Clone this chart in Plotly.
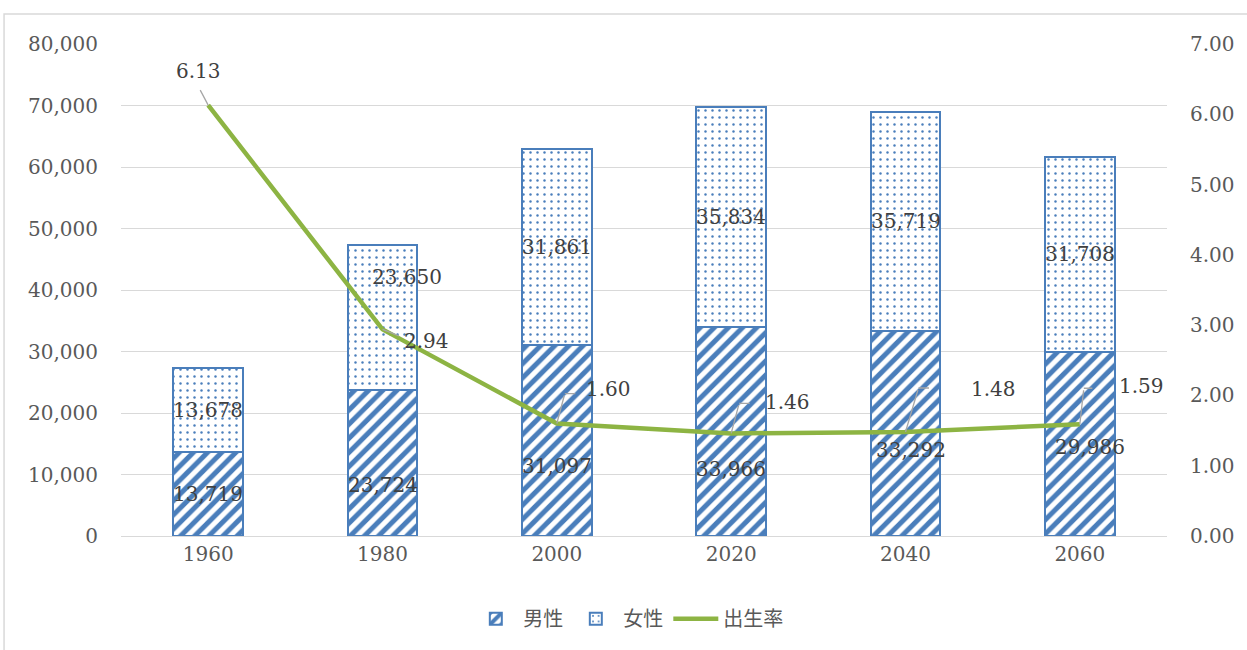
import plotly.graph_objects as go

years = ["1960", "1980", "2000", "2020", "2040", "2060"]
male = [13719, 23724, 31097, 33966, 33292, 29986]
female = [13678, 23650, 31861, 35834, 35719, 31708]
birth_rate = [6.13, 2.94, 1.60, 1.46, 1.48, 1.59]

# label offsets (pixels) - styling only
male_dx = [0, 0, 0, 0, 5, 10]
male_dy = [0, -22, -26, -37, -16, -3]
female_dx = [0, 24, 0, 0, 0, 0]
female_dy = [0, 40, 0, 0, 0, 0]
rate_dx = [-10, 44, 52, 56, 88, 62]
rate_dy = [34, -12, 35, 31, 43, 38]
lead_ax = [-9, 18, 8, 8, 13, 4]
lead_ay = [-17, 7, -30, -30, -44, -36]
lead_h = [0, 0, 12, 12, 12, 10]

BLUE = "#4A7EBB"
GREEN = "#8DB443"
SERIF = "DejaVu Serif"
SANS = "Noto Sans CJK JP"
LBL = dict(family=SERIF, size=20, color="#404040")

fig = go.Figure()
fig.add_trace(go.Bar(
    x=years, y=male, name="男性", width=0.4,
    marker=dict(color="white", line=dict(color=BLUE, width=2),
                pattern=dict(shape="/", fgcolor=BLUE, bgcolor="white", size=10,
                             solidity=0.5, fgopacity=1)),
))
fig.add_trace(go.Bar(
    x=years, y=female, name="女性", width=0.4,
    marker=dict(color="white", line=dict(color=BLUE, width=2),
                pattern=dict(shape=".", fgcolor=BLUE, bgcolor="white", size=7,
                             solidity=0.1, fgopacity=1)),
))
fig.add_trace(go.Scatter(
    x=years, y=birth_rate, name="出生率", yaxis="y2", mode="lines",
    line=dict(color=GREEN, width=4.5),
))

ann = []
for i, y in enumerate(years):
    ann.append(dict(x=i, y=male[i] / 2, xref="x", yref="y", text=f"{male[i]:,}",
                    showarrow=False, xshift=male_dx[i], yshift=male_dy[i], font=LBL))
    ann.append(dict(x=i, y=male[i] + female[i] / 2, xref="x", yref="y", text=f"{female[i]:,}",
                    showarrow=False, xshift=female_dx[i], yshift=female_dy[i], font=LBL))
    ann.append(dict(x=i, y=birth_rate[i], xref="x", yref="y2", text=f"{birth_rate[i]:.2f}",
                    showarrow=False, xshift=rate_dx[i], yshift=rate_dy[i], font=LBL))
    # leader line
    ann.append(dict(x=i, y=birth_rate[i], xref="x", yref="y2", text=" ",
                    showarrow=True, arrowhead=0, arrowwidth=1.3, arrowcolor="#A6A6A6",
                    ax=lead_ax[i], ay=lead_ay[i], standoff=0, font=dict(size=1)))
    if lead_h[i]:
        ann.append(dict(x=i, y=birth_rate[i], xref="x", yref="y2", text=" ",
                        xshift=lead_ax[i], yshift=-lead_ay[i],
                        showarrow=True, arrowhead=0, arrowwidth=1.3, arrowcolor="#A6A6A6",
                        ax=lead_h[i], ay=0, standoff=0, font=dict(size=1)))

fig.update_layout(
    width=1247, height=650,
    margin=dict(l=120.5, r=75.5, t=44, b=110),
    paper_bgcolor="white", plot_bgcolor="white",
    barmode="stack", bargap=0.6,
    showlegend=True,
    legend=dict(orientation="h", x=0.485, xanchor="center", y=-0.168, yanchor="middle",
                font=dict(family=SANS, size=20, color="#595959"), traceorder="normal",
                itemwidth=45),
    xaxis=dict(type="category", range=[-0.5, 5.5], showgrid=False, showline=True,
               linecolor="#D9D9D9", linewidth=1.3, ticks="",
               tickfont=dict(family=SERIF, size=20, color="#595959")),
    yaxis=dict(range=[0, 80000], dtick=10000, tickformat=",", showgrid=True,
               gridcolor="#D9D9D9", gridwidth=1.3, zeroline=False, ticks="",
               tickfont=dict(family=SERIF, size=20, color="#595959"), ticklabelstandoff=22),
    yaxis2=dict(range=[0, 7], dtick=1, tickformat=".2f", overlaying="y", side="right",
                showgrid=False, zeroline=False, ticks="",
                tickfont=dict(family=SERIF, size=20, color="#595959"), ticklabelstandoff=22),
    annotations=ann,
    shapes=[dict(type="rect", xref="paper", yref="paper",
                 x0=-117.5 / 1051, x1=1.08, y0=-0.24, y1=(538 - 14) / 494,
                 line=dict(color="#D9D9D9", width=1.5), layer="below")],
)

fig.write_html("out.html", config={"displayModeBar": False},
               post_script="document.body.style.margin='0';")
